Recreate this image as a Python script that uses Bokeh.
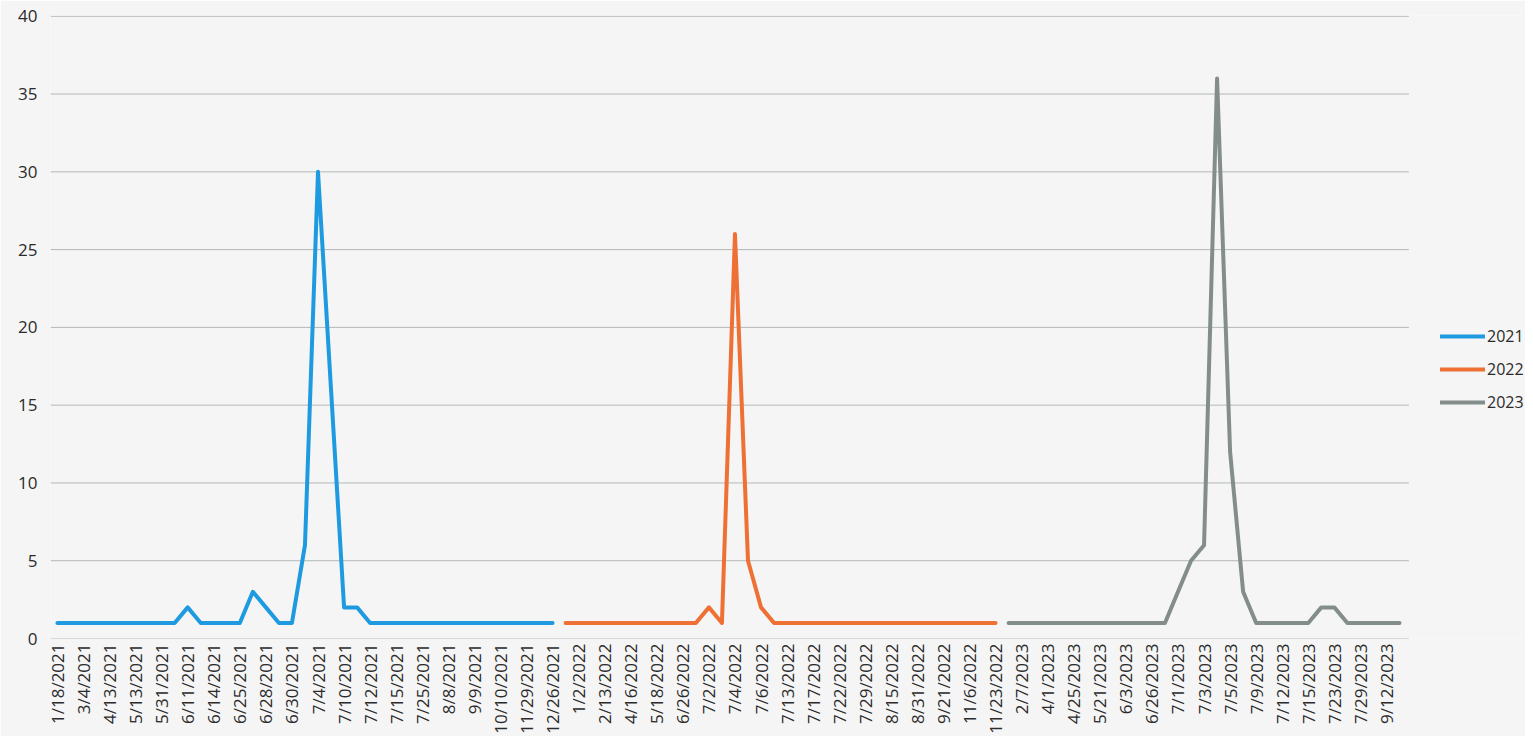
import math
from bokeh.plotting import figure
from bokeh.models import Range1d, FixedTicker, Legend, LegendItem, ColumnDataSource
from bokeh.embed import file_html
from bokeh.resources import INLINE

# Category axis (every other date is labelled on the chart; unlabelled ones are estimates)
categories = [
    "1/18/2021", "2/15/2021", "3/4/2021", "3/20/2021", "4/13/2021", "4/29/2021",
    "5/13/2021", "5/24/2021", "5/31/2021", "6/6/2021", "6/11/2021", "6/13/2021",
    "6/14/2021", "6/20/2021", "6/25/2021", "6/27/2021", "6/28/2021", "6/29/2021",
    "6/30/2021", "7/3/2021", "7/4/2021", "7/5/2021", "7/10/2021", "7/11/2021",
    "7/12/2021", "7/14/2021", "7/15/2021", "7/20/2021", "7/25/2021", "8/1/2021",
    "8/8/2021", "8/20/2021", "9/9/2021", "9/25/2021", "10/10/2021", "11/5/2021",
    "11/29/2021", "12/12/2021", "12/26/2021",
    "1/1/2022", "1/2/2022", "1/20/2022", "2/13/2022", "3/15/2022", "4/16/2022",
    "5/1/2022", "5/18/2022", "6/10/2022", "6/26/2022", "7/1/2022", "7/2/2022",
    "7/3/2022", "7/4/2022", "7/5/2022", "7/6/2022", "7/10/2022", "7/13/2022",
    "7/15/2022", "7/17/2022", "7/20/2022", "7/22/2022", "7/25/2022", "7/29/2022",
    "8/5/2022", "8/15/2022", "8/22/2022", "8/31/2022", "9/10/2022", "9/21/2022",
    "10/15/2022", "11/6/2022", "11/15/2022", "11/23/2022",
    "1/15/2023", "2/7/2023", "3/10/2023", "4/1/2023", "4/15/2023", "4/25/2023",
    "5/10/2023", "5/21/2023", "5/28/2023", "6/3/2023", "6/15/2023", "6/26/2023",
    "6/29/2023", "7/1/2023", "7/2/2023", "7/3/2023", "7/4/2023", "7/5/2023",
    "7/7/2023", "7/9/2023", "7/10/2023", "7/12/2023", "7/14/2023", "7/15/2023",
    "7/20/2023", "7/23/2023", "7/26/2023", "7/29/2023", "8/15/2023", "9/12/2023",
    "10/1/2023",
]

dates_2021 = categories[0:39]
values_2021 = [1, 1, 1, 1, 1, 1, 1, 1, 1, 1, 2, 1, 1, 1, 1, 3, 2, 1, 1, 6,
               30, 16, 2, 2, 1, 1, 1, 1, 1, 1, 1, 1, 1, 1, 1, 1, 1, 1, 1]

dates_2022 = categories[39:73]
values_2022 = [1, 1, 1, 1, 1, 1, 1, 1, 1, 1, 1, 2, 1, 26, 5, 2, 1, 1, 1, 1,
               1, 1, 1, 1, 1, 1, 1, 1, 1, 1, 1, 1, 1, 1]

dates_2023 = categories[73:104]
values_2023 = [1, 1, 1, 1, 1, 1, 1, 1, 1, 1, 1, 1, 1, 3, 5, 6, 36, 12, 3, 1,
               1, 1, 1, 1, 2, 2, 1, 1, 1, 1, 1]

series = [
    ("2021", dates_2021, values_2021, "#1e9be0"),
    ("2022", dates_2022, values_2022, "#ee7034"),
    ("2023", dates_2023, values_2023, "#838e8b"),
]

y_ticks = [0, 5, 10, 15, 20, 25, 30, 35, 40]

FONT = "Open Sans"
BG = "#f5f5f5"
TXT = "#2b2b2b"

# plot-area extent in category units (the right-hand part of the frame holds the legend)
X_START, X_PLOT_END, X_FRAME_END = -0.53, 103.72, 112.67

p = figure(width=1525, height=736, output_backend="svg", toolbar_location=None,
           x_range=Range1d(X_START, X_FRAME_END), y_range=Range1d(0, 40.05),
           min_border_left=50, min_border_right=0, min_border_top=15,
           min_border_bottom=98)
p.background_fill_color = BG
p.border_fill_color = BG
p.outline_line_color = None

# horizontal gridlines limited to the plot area
p.segment(x0=[X_START] * len(y_ticks), x1=[X_PLOT_END] * len(y_ticks),
          y0=y_ticks, y1=y_ticks, line_color="#b3b9b8", line_width=1)

items = []
for name, d, v, color in series:
    src = ColumnDataSource(dict(x=[categories.index(s) for s in d], y=v, date=d))
    r = p.line("x", "y", source=src, line_color=color, line_width=4,
               line_join="round", line_cap="round")
    items.append(LegendItem(label=name, renderers=[r]))

# X axis: label every other category, as the source chart does
label_idx = list(range(0, len(categories), 2))
p.xaxis.ticker = FixedTicker(ticks=label_idx)
p.xaxis.major_label_overrides = {i: categories[i] for i in label_idx}
p.xaxis.major_label_orientation = math.pi / 2
p.xaxis.major_label_text_font = FONT
p.xaxis.major_label_text_font_size = "17px"
p.xaxis.major_label_text_color = TXT
p.xaxis.major_label_standoff = 5
p.xaxis.major_tick_out = 0
p.xaxis.major_tick_in = 0
p.xaxis.axis_line_color = None
p.xaxis.major_tick_line_color = None
p.xaxis.minor_tick_line_color = None
p.xgrid.grid_line_color = None

p.yaxis.ticker = FixedTicker(ticks=y_ticks)
p.yaxis.major_label_text_font = FONT
p.yaxis.major_label_text_font_size = "17px"
p.yaxis.major_label_text_color = TXT
p.yaxis.major_label_standoff = 13
p.yaxis.major_tick_out = 0
p.yaxis.major_tick_in = 0
p.yaxis.axis_line_color = None
p.yaxis.major_tick_line_color = None
p.yaxis.minor_tick_line_color = None
p.ygrid.grid_line_color = None

legend = Legend(items=items, location=(1390, 221), orientation="vertical",
                glyph_width=45, glyph_height=30, spacing=3, padding=0, margin=0,
                label_standoff=2, label_text_font=FONT,
                label_text_font_size="16px", label_text_color=TXT,
                background_fill_alpha=0, border_line_color=None)
p.add_layout(legend, "center")

open("out.html", "w").write(file_html(p, INLINE))
